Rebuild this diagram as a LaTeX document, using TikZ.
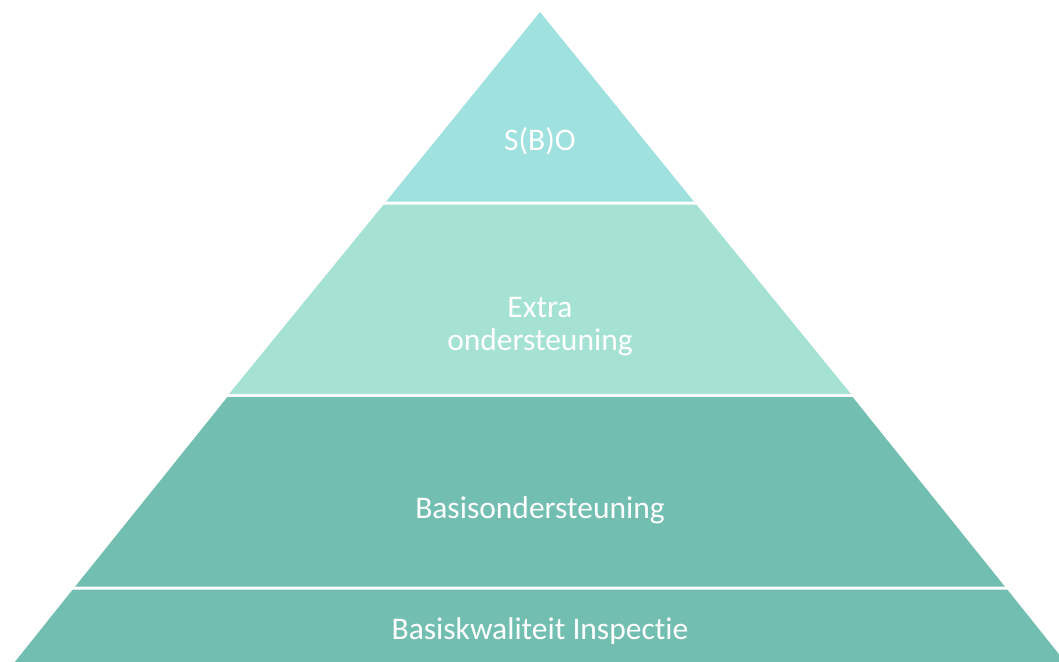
\documentclass[tikz,border=0pt]{standalone}
\usepackage{fontspec}
\setmainfont{Carlito}[Ligatures=NoCommon]
\usepackage{tikz}

\definecolor{topband}{RGB}{158,225,223}
\definecolor{midband}{RGB}{166,226,212}
\definecolor{lowband}{RGB}{114,190,177}

\tikzset{
  label/.style={text=white,font=\fontsize{31.5}{38}\selectfont,align=center},
}

\begin{document}
\begin{tikzpicture}[x=1pt,y=-1pt]
					\useasboundingbox (0,0) rectangle (1059,661);
					\begin{scope}
					\clip (0,0) rectangle (1059,661);
					% bands of the pyramid
					\fill[topband] (540,12)--(693.9,201.5)--(386.1,201.5)--cycle;
					\fill[midband] (383.6,204.5)--(696.4,204.5)--(851.0,394)--(229.0,394)--cycle;
					\fill[lowband] (227.4,397)--(852.6,397)--(1004.8,586.5)--(75.2,586.5)--cycle;
					\fill[lowband] (72.7,589.5)--(1007.3,589.5)--(1070,668)--(10,668)--cycle;
					\end{scope}
					% texts
					\node[label,anchor=base] (sbo) at (540,150) {S(B)O};
					\node[label,anchor=base] (extra) at (540,317) {Extra};
					\node[label,anchor=base] (onder) at (540,350) {ondersteuning};
					\node[label,anchor=base] (basis) at (540,518) {Basisondersteuning};
					\node[label,anchor=base] (kwal) at (540,639) {Basiskwaliteit Inspectie};
\end{tikzpicture}
\end{document}
